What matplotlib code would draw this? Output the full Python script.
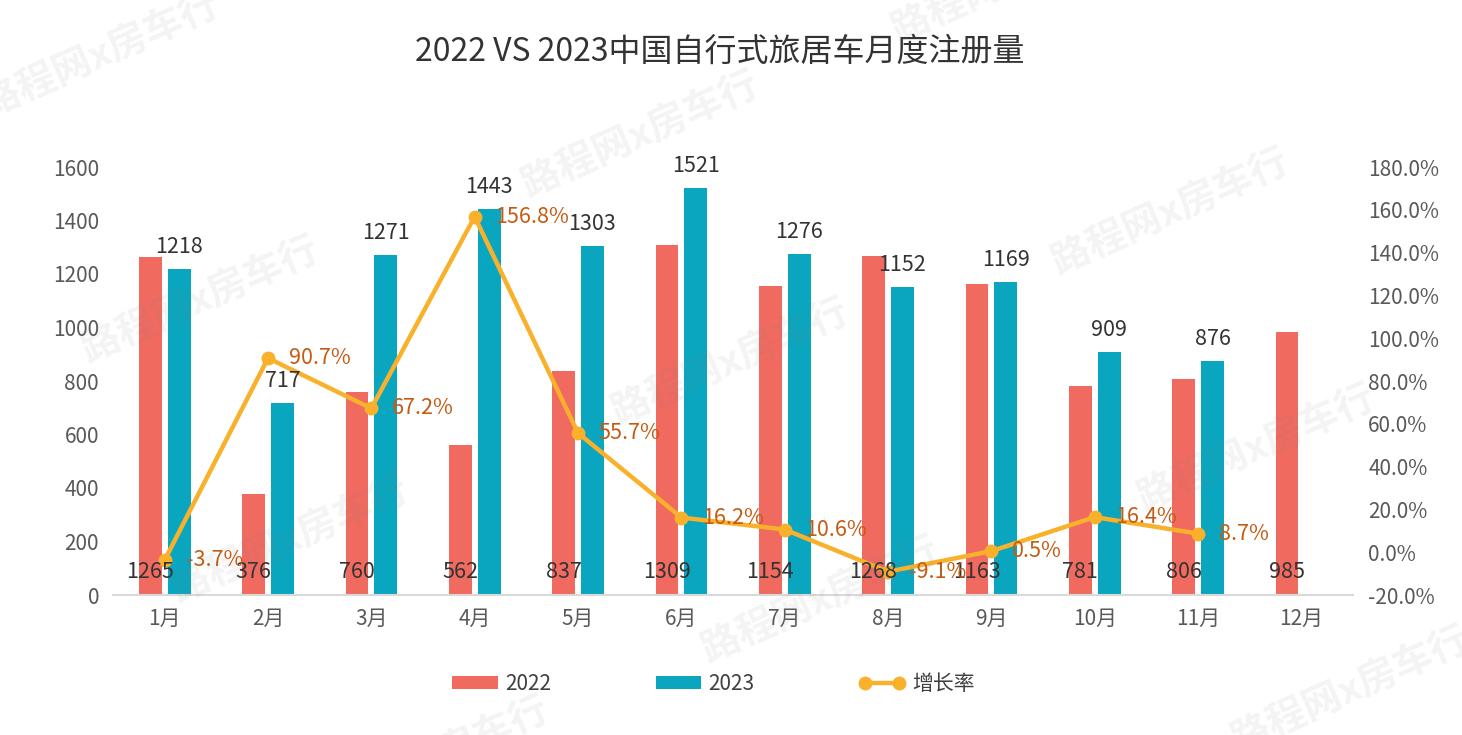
import matplotlib
matplotlib.use("Agg")
import matplotlib.pyplot as plt
from matplotlib.lines import Line2D
from matplotlib.patches import Patch
import numpy as np

plt.rcParams['font.family'] = ['Noto Sans CJK SC', 'DejaVu Sans']

months = ['1月', '2月', '3月', '4月', '5月', '6月', '7月', '8月', '9月', '10月', '11月', '12月']
sales_2022 = [1265, 376, 760, 562, 837, 1309, 1154, 1268, 1163, 781, 806, 985]
sales_2023 = [1218, 717, 1271, 1443, 1303, 1521, 1276, 1152, 1169, 909, 876]
growth = [-3.7, 90.7, 67.2, 156.8, 55.7, 16.2, 10.6, -9.1, 0.5, 16.4, 8.7]

left_ticks = [0, 200, 400, 600, 800, 1000, 1200, 1400, 1600]
right_ticks = [-20, 0, 20, 40, 60, 80, 100, 120, 140, 160, 180]

title = '2022 VS 2023中国自行式旅居车月度注册量'
watermark = '路程网x房车行'

c22 = '#F06A60'
c23 = '#0AA6BF'
cline = '#F9B12C'
cglab = '#C55A11'
ctick = '#595959'
clab = '#333333'

fig = plt.figure(figsize=(14.62, 7.35), dpi=100)
ax = fig.add_axes([113/1462, 140/735, (1353-113)/1462, (595-167)/735])
ax2 = ax.twinx()

x = np.arange(len(months))
w = 0.22
off = 0.14
ax.bar(x - off, sales_2022, width=w, color=c22, zorder=2)
ax.bar(x[:len(sales_2023)] + off, sales_2023, width=w, color=c23, zorder=2)

ax.set_xlim(-0.5, len(months) - 0.5)
ax.set_ylim(0, 1600)
ax.set_yticks(left_ticks)
ax.set_yticklabels([str(v) for v in left_ticks])
ax.set_xticks(x)
ax.set_xticklabels(months)

xg = x[:len(growth)]
ax2.plot(xg, growth, color=cline, lw=3.2, marker='o', ms=9, zorder=3, solid_capstyle='round')
ax2.set_ylim(-20, 180)
ax2.set_yticks(right_ticks)
ax2.set_yticklabels([f'{v:.1f}%' for v in right_ticks])

for a in (ax, ax2):
    for s in a.spines.values():
        s.set_visible(False)
ax.spines['bottom'].set_visible(True)
ax.spines['bottom'].set_color('#D9D9D9')
ax.spines['bottom'].set_linewidth(1.5)

ax.tick_params(axis='y', length=0, pad=10, labelsize=15, labelcolor=ctick)
ax.tick_params(axis='x', length=0, pad=9, labelsize=15, labelcolor=ctick)
ax2.tick_params(axis='y', length=0, pad=11, labelsize=15, labelcolor=ctick)

# data labels (drawn on ax2 so they sit above the line)
for i, v in enumerate(sales_2022):
    ax2.annotate(str(v), xy=(i - off, 0), xycoords=ax.transData,
                 xytext=(0, 12), textcoords='offset points',
                 ha='center', va='baseline', fontsize=15.5, color=clab, zorder=5)
for i, v in enumerate(sales_2023):
    ax2.annotate(str(v), xy=(i + off, v), xycoords=ax.transData,
                 xytext=(0, 8), textcoords='offset points',
                 ha='center', va='bottom', fontsize=15.5, color=clab, zorder=5)
for i, v in enumerate(growth):
    ax2.annotate(f'{v:.1f}%', xy=(i, v), xycoords='data',
                 xytext=(15, 0), textcoords='offset points',
                 ha='left', va='center', fontsize=15.5, color=cglab, zorder=5)

fig.text(0.492, 1 - 52/735, title, ha='center', va='center', fontsize=23, color='#333333')

handles = [Patch(facecolor=c22, edgecolor='none'),
           Patch(facecolor=c23, edgecolor='none'),
           Line2D([0], [0], color=cline, lw=3.2, marker='o', ms=9)]
fig.legend(handles, ['2022', '2023', '增长率'], loc='center', bbox_to_anchor=(0.488, 1 - 684/735),
           ncol=3, frameon=False, fontsize=15, handlelength=2.2, handleheight=0.6,
           handletextpad=0.35, columnspacing=5.0, numpoints=2, labelcolor='#404040')

# watermark
wm_pos = [(100, 55), (640, 135), (1170, 212),
          (200, 300), (730, 362), (1256, 448),
          (290, 540), (820, 600), (1350, 690),
          (1010, -20), (430, 760)]
for (px, py) in wm_pos:
    fig.text(px/1462, 1 - py/735, watermark, ha='center', va='center', rotation=24,
             fontsize=28, fontweight='bold', color='#808080', alpha=0.09, zorder=10)

fig.savefig('out.png', dpi=100)
